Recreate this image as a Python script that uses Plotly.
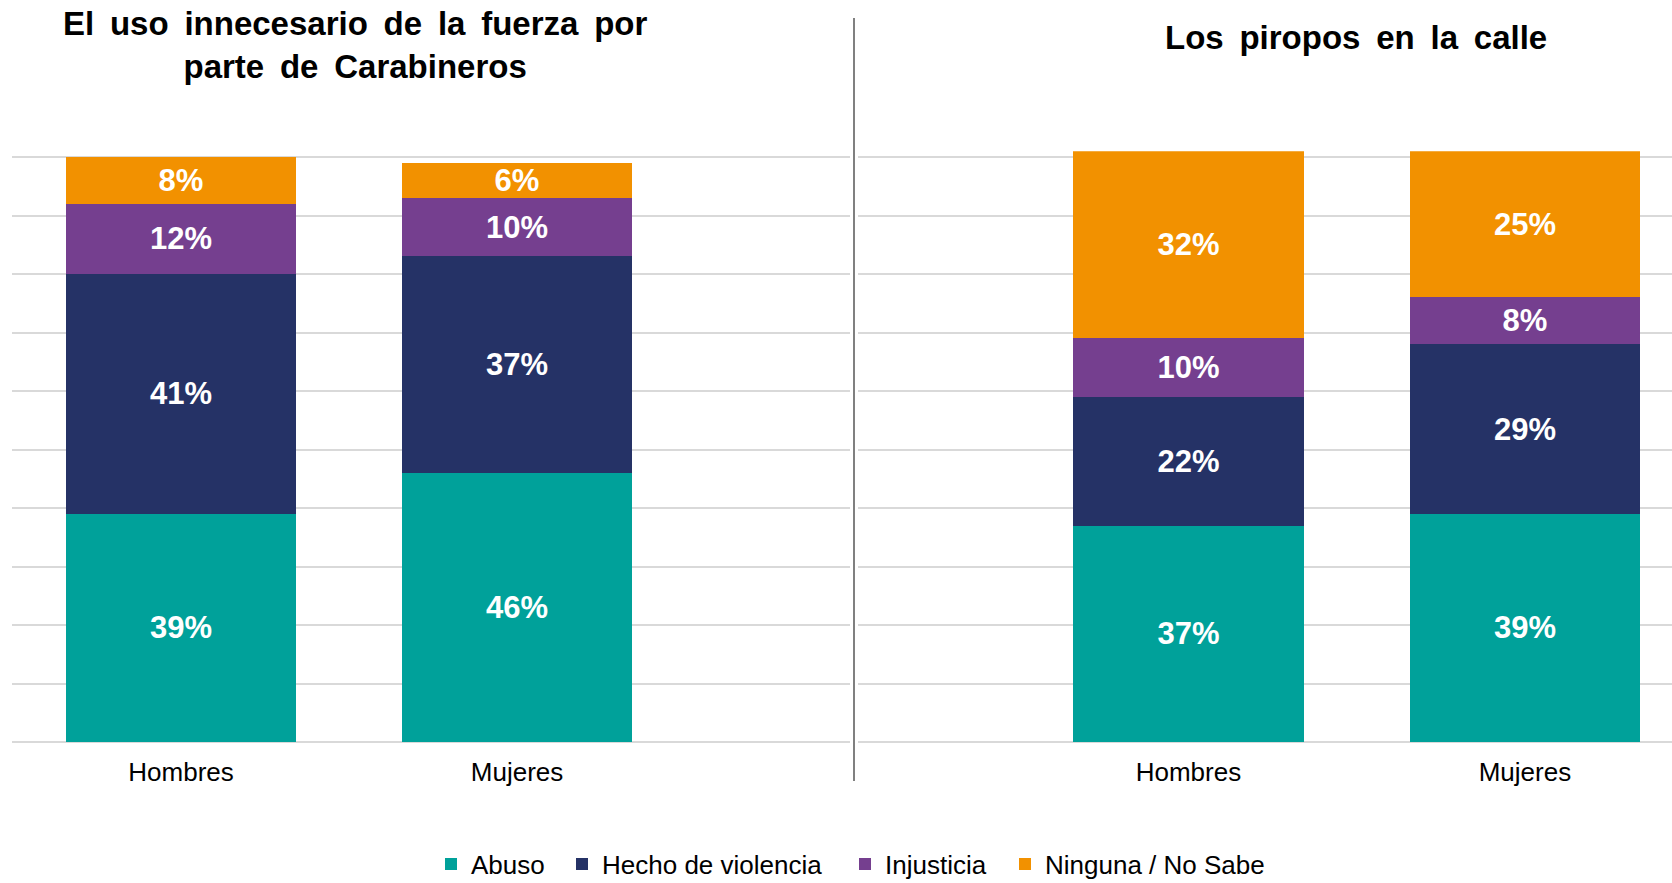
import plotly.graph_objects as go

# Perception survey: share of answers per group, two questions side by side
grupos = ["Hombres", "Mujeres"]
series = ["Abuso", "Hecho de violencia", "Injusticia", "Ninguna / No Sabe"]

fuerza_abuso = [39, 46]
fuerza_violencia = [41, 37]
fuerza_injusticia = [12, 10]
fuerza_ninguna = [8, 6]

piropos_abuso = [37, 39]
piropos_violencia = [22, 29]
piropos_injusticia = [10, 8]
piropos_ninguna = [32, 25]

titulo_fuerza = ["El uso innecesario de la fuerza por", "parte de Carabineros"]
titulo_piropos = "Los piropos en la calle"

colores = ["#00A19A", "#253266", "#753F8F", "#F29100"]

W, H = 1672, 883
FONT = "Liberation Sans, Arial, sans-serif"


def px_x(p):
    return p / W


def px_y(p):
    return (H - p) / H


def espaciado(s):
    # slightly wider word spacing for the headings
    return s.replace(" ", " \u2009")


fig = go.Figure()

paneles = [
    ("x", "y", [fuerza_abuso, fuerza_violencia, fuerza_injusticia, fuerza_ninguna], True),
    ("x2", "y2", [piropos_abuso, piropos_violencia, piropos_injusticia, piropos_ninguna], False),
]

leyendas = ["legend", "legend2", "legend3", "legend4"]

for xa, ya, valores, mostrar in paneles:
    for nombre, vals, color, ley in zip(series, valores, colores, leyendas):
        fig.add_trace(go.Bar(
            x=grupos, y=vals, name=nombre,
            marker=dict(color=color, line=dict(width=0)),
            text=[f"{v}%" for v in vals],
            textposition="inside", insidetextanchor="middle",
            constraintext="none",
            textfont=dict(family=FONT, size=31, color="white", weight="bold"),
            legend=ley, legendgroup=nombre, showlegend=mostrar,
            hoverinfo="skip",
            xaxis=xa, yaxis=ya,
        ))

eje_y = dict(
    range=[0, 101], tickvals=list(range(0, 101, 10)), showticklabels=False,
    showgrid=True, gridcolor="#D9D9D9", gridwidth=2,
    zeroline=True, zerolinecolor="#D9D9D9", zerolinewidth=2,
    domain=[px_y(742), px_y(742 - 101 * 5.85)],
    fixedrange=True,
)
eje_x = dict(
    type="category", showgrid=False, zeroline=False, showline=False,
    tickfont=dict(family=FONT, size=26, color="#000000"),
    ticks="", ticklabelstandoff=12, fixedrange=True,
)

# one legend box per series, placed along the bottom row
inicio_texto = [469, 600, 883, 1043]
cajas_leyenda = {}
for ley, xt in zip(leyendas, inicio_texto):
    cajas_leyenda[ley] = dict(
        orientation="h", x=px_x(xt + 4 - 42), xanchor="left",
        y=px_y(864), yanchor="middle",
        font=dict(family=FONT, size=26, color="#000000"),
        itemwidth=30, bgcolor="rgba(0,0,0,0)", borderwidth=0,
    )

fig.update_layout(
    width=W, height=H,
    margin=dict(l=0, r=0, t=0, b=0, autoexpand=False),
    paper_bgcolor="white", plot_bgcolor="white",
    barmode="stack", bargap=0.316,
    font=dict(family=FONT, color="#000000"),
    xaxis=dict(eje_x, domain=[px_x(12), px_x(850)], range=[-0.503, 1.991]),
    xaxis2=dict(eje_x, domain=[px_x(858), 1.0], range=[-0.982, 1.437], anchor="y2"),
    yaxis=dict(eje_y, anchor="x"),
    yaxis2=dict(eje_y, anchor="x2"),
    showlegend=True,
    annotations=[
        dict(text="<br>".join("<b>" + espaciado(t) + "</b>" for t in titulo_fuerza),
             xref="paper", yref="paper", x=px_x(355), y=px_y(45),
             xanchor="center", yanchor="middle", showarrow=False,
             font=dict(family=FONT, size=33, color="#000000")),
        dict(text="<b>" + espaciado(titulo_piropos) + "</b>",
             xref="paper", yref="paper", x=px_x(1356), y=px_y(38),
             xanchor="center", yanchor="middle", showarrow=False,
             font=dict(family=FONT, size=33, color="#000000")),
    ],
    shapes=[
        dict(type="line", xref="paper", yref="paper",
             x0=px_x(854), x1=px_x(854), y0=px_y(18), y1=px_y(781),
             line=dict(color="#808080", width=2)),
    ],
    **cajas_leyenda,
)

fig.write_html("out.html")
